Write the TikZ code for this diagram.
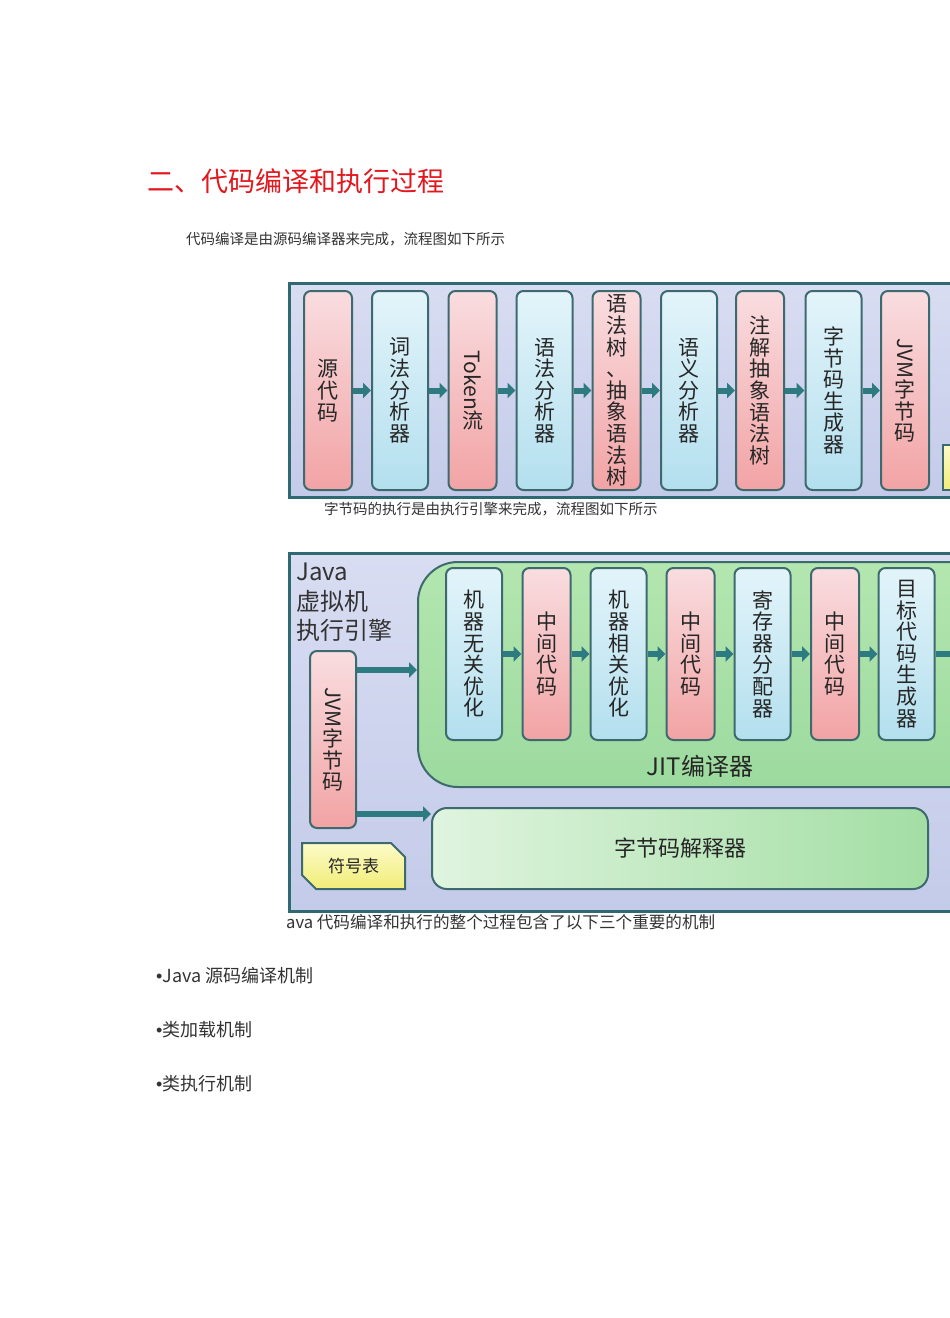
\documentclass[tikz,border=0pt]{standalone}
\usepackage{fontspec}
\setmainfont{Noto Sans CJK SC}
\newfontfamily\latinfont{Liberation Sans}
\usepackage{graphicx}
\usetikzlibrary{arrows.meta,shapes.misc}
\definecolor{ftitle}{HTML}{E3181F}
\definecolor{ftext}{HTML}{333333}
\definecolor{fframe}{HTML}{2F6A72}
\definecolor{fline}{HTML}{3D6A6E}
\definecolor{fflow}{HTML}{2D7A80}
\definecolor{fpaneltop}{HTML}{D8DDF2}
\definecolor{fpanelbot}{HTML}{C4CBE9}
\definecolor{fpinktop}{HTML}{F9DDE0}
\definecolor{fpinkbot}{HTML}{F2A3A4}
\definecolor{fbluetop}{HTML}{E3F4FA}
\definecolor{fbluebot}{HTML}{B3DFEE}
\definecolor{fgreentop}{HTML}{B4E6B0}
\definecolor{fgreenbot}{HTML}{9CDA9E}
\definecolor{finterl}{HTML}{E0F4DF}
\definecolor{finterr}{HTML}{A3DEA4}
\definecolor{fyeltop}{HTML}{FCFBC8}
\definecolor{fyelbot}{HTML}{F1ED78}
\tikzset{
  panel/.style={draw=fframe, line width=3pt, top color=fpaneltop, bottom color=fpanelbot},
  stage/.style={draw=fline, line width=2pt, rounded corners=7pt, inner sep=0pt, align=center,
    text=black!85, font=\fontsize{21}{21.6}\selectfont},
  pinkstage/.style={stage, top color=fpinktop, bottom color=fpinkbot, minimum width=48},
  bluestage/.style={stage, top color=fbluetop, bottom color=fbluebot, minimum width=56},
  symbox/.style={draw=fline, line width=2pt, chamfered rectangle, chamfered rectangle xsep=7pt,
    chamfered rectangle ysep=7pt, chamfered rectangle corners={north east,south west},
    top color=fyeltop, bottom color=fyelbot, inner sep=0pt},
  flow/.style={draw=fflow, line width=6pt, -{Triangle[length=8pt,width=15pt]}},
  para/.style={anchor=west, inner sep=0pt, text=ftext},
}
\begin{document}
\begin{tikzpicture}[x=1pt, y=-1pt]
\useasboundingbox (0,0) rectangle (950,1318);
\clip (0,0) rectangle (950,1318);
\fill[white] (0,0) rectangle (950,1318);
% ---------- heading and text ----------
\node[para, text=ftitle, font=\fontsize{27}{27}\selectfont] (title) at (147,181) {二、代码编译和执行过程};
\node[para, font=\fontsize{14.5}{14.5}\selectfont] (intro) at (186,239) {代码编译是由源码编译器来完成，流程图如下所示};
% ---------- compile flow ----------
\draw[panel] (289,283) rectangle (1010,497);
\begin{scope}[every node/.append style={minimum height=199}]
\node[pinkstage] (src) at (328,390.5) {源\\代\\码};
\node[bluestage] (lex) at (400,390.5) {词\\法\\分\\析\\器};
\node[pinkstage] (tok) at (472.5,390.5) {\rotatebox{-90}{Token}\\流};
\node[bluestage] (syn) at (544.5,390.5) {语\\法\\分\\析\\器};
\node[pinkstage] (ast) at (616.5,390.5) {语\\法\\树\\、\\抽\\象\\语\\法\\树};
\node[bluestage] (sem) at (689,390.5) {语\\义\\分\\析\\器};
\node[pinkstage] (ann) at (760,390.5) {注\\解\\抽\\象\\语\\法\\树};
\node[bluestage] (gen) at (833.5,390.5) {字\\节\\码\\生\\成\\器};
\node[pinkstage] (bc) at (905,390.5) {\rotatebox{-90}{JVM}\\字\\节\\码};
\end{scope}
\node[symbox, minimum width=70, minimum height=45] (sym1) at (978,467.5) {};
\foreach \a/\b in {src/lex,lex/tok,tok/syn,syn/ast,ast/sem,sem/ann,ann/gen,gen/bc}
  {\draw[flow] (\a.east) -- (\b.west);}
\node[para, font=\fontsize{14.5}{14.5}\selectfont] (exec) at (324,509) {字节码的执行是由执行引擎来完成，流程图如下所示};
% ---------- execution engine ----------
\draw[panel] (289,553) rectangle (1010,911);
\node[para, anchor=north west, align=left, font=\fontsize{24}{29.5}\selectfont] (engine) at (296,563)
  {Java\\虚拟机\\执行引擎};
\node[draw=fline, line width=2pt, rounded corners=40pt, top color=fgreentop, bottom color=fgreenbot,
  minimum width=600, minimum height=225, inner sep=0pt] (jit) at (718,674.5) {};
\begin{scope}[every node/.append style={minimum height=172}]
\node[bluestage] (opt1) at (474,654) {机\\器\\无\\关\\优\\化};
\node[pinkstage] (ir1) at (546.5,654) {中\\间\\代\\码};
\node[bluestage] (opt2) at (618.5,654) {机\\器\\相\\关\\优\\化};
\node[pinkstage] (ir2) at (690.5,654) {中\\间\\代\\码};
\node[bluestage] (reg) at (762.5,654) {寄\\存\\器\\分\\配\\器};
\node[pinkstage] (ir3) at (835,654) {中\\间\\代\\码};
\node[bluestage] (emit) at (906.5,654) {目\\标\\代\\码\\生\\成\\器};
\end{scope}
\coordinate (jitout) at (958,654);
\foreach \a/\b in {opt1/ir1,ir1/opt2,opt2/ir2,ir2/reg,reg/ir3,ir3/emit,emit/jitout}
  {\draw[flow] (\a.east) -- (\b.west);}
\node[font=\fontsize{24}{24}\selectfont, text=black!85] (jitname) at (700,766) {JIT编译器};
\node[pinkstage, minimum width=46, minimum height=177] (vmbc) at (333,739.5) {\rotatebox{-90}{JVM}\\字\\节\\码};
\node[draw=fline, line width=2pt, rounded corners=15pt, left color=finterl, right color=finterr,
  minimum width=496, minimum height=81, inner sep=0pt, font=\fontsize{22}{22}\selectfont,
  text=black!85] (interp) at (680,848.5) {字节码解释器};
\node[symbox, minimum width=103, minimum height=46, font=\fontsize{17}{17}\selectfont,
  text=black!85] (sym2) at (353.5,866) {符号表};
\draw[flow] ([yshift=69.5pt]vmbc.east) -- ([yshift=69.5pt]vmbc.east -| jit.west);
\draw[flow] ([yshift=-74.5pt]vmbc.east) -- ([yshift=-74.5pt]vmbc.east -| interp.west);
% ---------- closing text ----------
\node[para, font=\fontsize{16.6}{16.6}\selectfont] (summary) at (286,922) {ava 代码编译和执行的整个过程包含了以下三个重要的机制};
\node[para, font=\fontsize{18}{18}\selectfont] (item1) at (156,976) {{\latinfont •}Java 源码编译机制};
\node[para, font=\fontsize{18}{18}\selectfont] (item2) at (156,1030) {{\latinfont •}类加载机制};
\node[para, font=\fontsize{18}{18}\selectfont] (item3) at (156,1084) {{\latinfont •}类执行机制};
\end{tikzpicture}
\end{document}
